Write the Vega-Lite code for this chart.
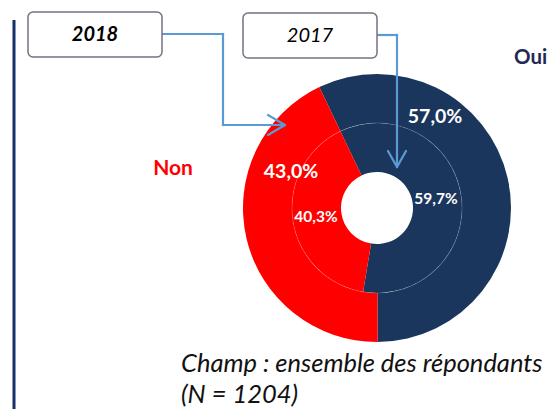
{
  "$schema": "https://vega.github.io/schema/vega-lite/v6.json",
  "width": 354,
  "height": 402,
  "autosize": "none",
  "padding": {"left": 200, "top": 7, "right": 0, "bottom": 0},
  "background": "white",
  "config": {"view": {"stroke": null}, "text": {"font": "Lato"}},
  "data": {"values": [
    {"year": "2018", "answer": "Oui", "pct": 57.0, "label": "57,0%", "order": 1},
    {"year": "2018", "answer": "Non", "pct": 43.0, "label": "43,0%", "order": 2},
    {"year": "2017", "answer": "Oui", "pct": 59.7, "label": "59,7%", "order": 1},
    {"year": "2017", "answer": "Non", "pct": 40.3, "label": "40,3%", "order": 2}
  ]},
  "layer": [
    {
      "transform": [{"filter": "datum.year === '2018'"}],
      "mark": {"type": "arc", "radius": 134, "radius2": 85, "strokeWidth": 0},
      "encoding": {
        "theta": {"field": "pct", "type": "quantitative", "stack": true, "scale": {"domain": [0, 100], "range": [-0.445, 5.8382]}},
        "order": {"field": "order", "type": "quantitative"},
        "color": {"field": "answer", "type": "nominal", "scale": {"domain": ["Oui", "Non"], "range": ["#1b365d", "#ff0000"]}, "legend": null}
      }
    },
    {
      "transform": [{"filter": "datum.year === '2017'"}],
      "mark": {"type": "arc", "radius": 85, "radius2": 36, "strokeWidth": 0},
      "encoding": {
        "theta": {"field": "pct", "type": "quantitative", "stack": true, "scale": {"domain": [0, 100], "range": [-0.445, 5.8382]}},
        "order": {"field": "order", "type": "quantitative"},
        "color": {"field": "answer", "type": "nominal", "scale": {"domain": ["Oui", "Non"], "range": ["#1b365d", "#ff0000"]}, "legend": null}
      }
    },
    {
      "data": {"values": [{}]},
      "mark": {"type": "arc", "theta": 0, "theta2": 6.2832, "radius": 85.5, "radius2": 84.7, "fill": "#ffffff", "opacity": 0.2},
      "encoding": {}
    },
    {
      "data": {"values": [{}]},
      "mark": {"type": "rule", "color": "#14306a", "strokeWidth": 3},
      "encoding": {
        "x": {"datum": 14, "type": "quantitative", "scale": {"domain": [200, 554], "nice": false, "zero": false}, "axis": null},
        "y": {"datum": 20, "type": "quantitative", "scale": {"domain": [7, 409], "nice": false, "zero": false, "reverse": true}, "axis": null},
        "y2": {"datum": 409}
      }
    },
    {
      "data": {"values": [{}]},
      "mark": {"type": "rule", "color": "#5b9bd5", "strokeWidth": 2.2, "strokeCap": "square"},
      "encoding": {
        "x": {"datum": 162, "type": "quantitative", "scale": {"domain": [200, 554], "nice": false, "zero": false}, "axis": null},
        "x2": {"datum": 223},
        "y": {"datum": 34, "type": "quantitative", "scale": {"domain": [7, 409], "nice": false, "zero": false, "reverse": true}, "axis": null},
        "y2": {"datum": 34}
      }
    },
    {
      "data": {"values": [{}]},
      "mark": {"type": "rule", "color": "#5b9bd5", "strokeWidth": 2.2, "strokeCap": "square"},
      "encoding": {
        "x": {"datum": 223, "type": "quantitative", "scale": {"domain": [200, 554], "nice": false, "zero": false}, "axis": null},
        "x2": {"datum": 223},
        "y": {"datum": 34, "type": "quantitative", "scale": {"domain": [7, 409], "nice": false, "zero": false, "reverse": true}, "axis": null},
        "y2": {"datum": 125}
      }
    },
    {
      "data": {"values": [{}]},
      "mark": {"type": "rule", "color": "#5b9bd5", "strokeWidth": 2.2, "strokeCap": "square"},
      "encoding": {
        "x": {"datum": 223, "type": "quantitative", "scale": {"domain": [200, 554], "nice": false, "zero": false}, "axis": null},
        "x2": {"datum": 283},
        "y": {"datum": 125, "type": "quantitative", "scale": {"domain": [7, 409], "nice": false, "zero": false, "reverse": true}, "axis": null},
        "y2": {"datum": 125}
      }
    },
    {
      "data": {"values": [{}]},
      "mark": {"type": "rule", "color": "#5b9bd5", "strokeWidth": 2.2, "strokeCap": "round"},
      "encoding": {
        "x": {"datum": 268, "type": "quantitative", "scale": {"domain": [200, 554], "nice": false, "zero": false}, "axis": null},
        "x2": {"datum": 285},
        "y": {"datum": 115, "type": "quantitative", "scale": {"domain": [7, 409], "nice": false, "zero": false, "reverse": true}, "axis": null},
        "y2": {"datum": 125}
      }
    },
    {
      "data": {"values": [{}]},
      "mark": {"type": "rule", "color": "#5b9bd5", "strokeWidth": 2.2, "strokeCap": "round"},
      "encoding": {
        "x": {"datum": 268, "type": "quantitative", "scale": {"domain": [200, 554], "nice": false, "zero": false}, "axis": null},
        "x2": {"datum": 285},
        "y": {"datum": 135, "type": "quantitative", "scale": {"domain": [7, 409], "nice": false, "zero": false, "reverse": true}, "axis": null},
        "y2": {"datum": 125}
      }
    },
    {
      "data": {"values": [{}]},
      "mark": {"type": "rule", "color": "#5b9bd5", "strokeWidth": 2.2, "strokeCap": "square"},
      "encoding": {
        "x": {"datum": 377, "type": "quantitative", "scale": {"domain": [200, 554], "nice": false, "zero": false}, "axis": null},
        "x2": {"datum": 397},
        "y": {"datum": 35, "type": "quantitative", "scale": {"domain": [7, 409], "nice": false, "zero": false, "reverse": true}, "axis": null},
        "y2": {"datum": 35}
      }
    },
    {
      "data": {"values": [{}]},
      "mark": {"type": "rule", "color": "#5b9bd5", "strokeWidth": 2.2, "strokeCap": "square"},
      "encoding": {
        "x": {"datum": 397, "type": "quantitative", "scale": {"domain": [200, 554], "nice": false, "zero": false}, "axis": null},
        "x2": {"datum": 397},
        "y": {"datum": 35, "type": "quantitative", "scale": {"domain": [7, 409], "nice": false, "zero": false, "reverse": true}, "axis": null},
        "y2": {"datum": 165}
      }
    },
    {
      "data": {"values": [{}]},
      "mark": {"type": "rule", "color": "#5b9bd5", "strokeWidth": 2.2, "strokeCap": "round"},
      "encoding": {
        "x": {"datum": 388, "type": "quantitative", "scale": {"domain": [200, 554], "nice": false, "zero": false}, "axis": null},
        "x2": {"datum": 397},
        "y": {"datum": 151, "type": "quantitative", "scale": {"domain": [7, 409], "nice": false, "zero": false, "reverse": true}, "axis": null},
        "y2": {"datum": 167}
      }
    },
    {
      "data": {"values": [{}]},
      "mark": {"type": "rule", "color": "#5b9bd5", "strokeWidth": 2.2, "strokeCap": "round"},
      "encoding": {
        "x": {"datum": 406, "type": "quantitative", "scale": {"domain": [200, 554], "nice": false, "zero": false}, "axis": null},
        "x2": {"datum": 397},
        "y": {"datum": 151, "type": "quantitative", "scale": {"domain": [7, 409], "nice": false, "zero": false, "reverse": true}, "axis": null},
        "y2": {"datum": 167}
      }
    },
    {
      "data": {"values": [{}]},
      "mark": {"type": "rect", "fill": "#ffffff", "stroke": "#7b6f82", "strokeWidth": 1.5, "cornerRadius": 5},
      "encoding": {
        "x": {"datum": 28, "type": "quantitative", "scale": {"domain": [200, 554], "nice": false, "zero": false}, "axis": null},
        "x2": {"datum": 162},
        "y": {"datum": 12, "type": "quantitative", "scale": {"domain": [7, 409], "nice": false, "zero": false, "reverse": true}, "axis": null},
        "y2": {"datum": 57}
      }
    },
    {
      "data": {"values": [{}]},
      "mark": {"type": "rect", "fill": "#ffffff", "stroke": "#7b6f82", "strokeWidth": 1.5, "cornerRadius": 5},
      "encoding": {
        "x": {"datum": 243, "type": "quantitative", "scale": {"domain": [200, 554], "nice": false, "zero": false}, "axis": null},
        "x2": {"datum": 377},
        "y": {"datum": 13, "type": "quantitative", "scale": {"domain": [7, 409], "nice": false, "zero": false, "reverse": true}, "axis": null},
        "y2": {"datum": 58}
      }
    },
    {
      "transform": [{"filter": "datum.year === '2018' && datum.order === 1"}],
      "mark": {"type": "text", "fontSize": 20, "fontWeight": "bold", "fontStyle": "italic", "color": "#000000", "align": "center", "baseline": "middle"},
      "encoding": {
        "x": {"datum": 95, "type": "quantitative", "scale": {"domain": [200, 554], "nice": false, "zero": false}, "axis": null},
        "y": {"datum": 35, "type": "quantitative", "scale": {"domain": [7, 409], "nice": false, "zero": false, "reverse": true}, "axis": null},
        "text": {"field": "year"}
      }
    },
    {
      "transform": [{"filter": "datum.year === '2017' && datum.order === 1"}],
      "mark": {"type": "text", "fontSize": 20, "fontStyle": "italic", "color": "#000000", "align": "center", "baseline": "middle"},
      "encoding": {
        "x": {"datum": 310, "type": "quantitative", "scale": {"domain": [200, 554], "nice": false, "zero": false}, "axis": null},
        "y": {"datum": 36, "type": "quantitative", "scale": {"domain": [7, 409], "nice": false, "zero": false, "reverse": true}, "axis": null},
        "text": {"field": "year"}
      }
    },
    {
      "transform": [{"filter": "datum.year === '2018' && datum.answer === 'Non'"}],
      "mark": {"type": "text", "fontSize": 21, "fontWeight": "bold", "color": "#ff0000", "align": "center", "baseline": "middle"},
      "encoding": {
        "x": {"datum": 173, "type": "quantitative", "scale": {"domain": [200, 554], "nice": false, "zero": false}, "axis": null},
        "y": {"datum": 169, "type": "quantitative", "scale": {"domain": [7, 409], "nice": false, "zero": false, "reverse": true}, "axis": null},
        "text": {"field": "answer"}
      }
    },
    {
      "transform": [{"filter": "datum.year === '2018' && datum.answer === 'Oui'"}],
      "mark": {"type": "text", "fontSize": 20.5, "fontWeight": "bold", "color": "#1f2a55", "align": "left", "baseline": "middle"},
      "encoding": {
        "x": {"datum": 514, "type": "quantitative", "scale": {"domain": [200, 554], "nice": false, "zero": false}, "axis": null},
        "y": {"datum": 58, "type": "quantitative", "scale": {"domain": [7, 409], "nice": false, "zero": false, "reverse": true}, "axis": null},
        "text": {"field": "answer"}
      }
    },
    {
      "transform": [{"filter": "datum.year === '2018' && datum.answer === 'Oui'"}],
      "mark": {"type": "text", "fontSize": 19.5, "fontWeight": "bold", "color": "#ffffff", "align": "center", "baseline": "middle"},
      "encoding": {
        "x": {"datum": 435, "type": "quantitative", "scale": {"domain": [200, 554], "nice": false, "zero": false}, "axis": null},
        "y": {"datum": 117, "type": "quantitative", "scale": {"domain": [7, 409], "nice": false, "zero": false, "reverse": true}, "axis": null},
        "text": {"field": "label"}
      }
    },
    {
      "transform": [{"filter": "datum.year === '2018' && datum.answer === 'Non'"}],
      "mark": {"type": "text", "fontSize": 19.5, "fontWeight": "bold", "color": "#ffffff", "align": "center", "baseline": "middle"},
      "encoding": {
        "x": {"datum": 291, "type": "quantitative", "scale": {"domain": [200, 554], "nice": false, "zero": false}, "axis": null},
        "y": {"datum": 172, "type": "quantitative", "scale": {"domain": [7, 409], "nice": false, "zero": false, "reverse": true}, "axis": null},
        "text": {"field": "label"}
      }
    },
    {
      "transform": [{"filter": "datum.year === '2017' && datum.answer === 'Oui'"}],
      "mark": {"type": "text", "fontSize": 15.5, "fontWeight": "bold", "color": "#ffffff", "align": "center", "baseline": "middle"},
      "encoding": {
        "x": {"datum": 436, "type": "quantitative", "scale": {"domain": [200, 554], "nice": false, "zero": false}, "axis": null},
        "y": {"datum": 199, "type": "quantitative", "scale": {"domain": [7, 409], "nice": false, "zero": false, "reverse": true}, "axis": null},
        "text": {"field": "label"}
      }
    },
    {
      "transform": [{"filter": "datum.year === '2017' && datum.answer === 'Non'"}],
      "mark": {"type": "text", "fontSize": 15.5, "fontWeight": "bold", "color": "#ffffff", "align": "center", "baseline": "middle"},
      "encoding": {
        "x": {"datum": 316, "type": "quantitative", "scale": {"domain": [200, 554], "nice": false, "zero": false}, "axis": null},
        "y": {"datum": 217, "type": "quantitative", "scale": {"domain": [7, 409], "nice": false, "zero": false, "reverse": true}, "axis": null},
        "text": {"field": "label"}
      }
    },
    {
      "data": {"values": [{}]},
      "mark": {"type": "text", "text": ["Champ : ensemble des répondants", "(N = 1204)"], "fontSize": 25.5, "fontStyle": "italic", "color": "#111111", "align": "left", "baseline": "alphabetic", "lineHeight": 31},
      "encoding": {
        "x": {"datum": 181, "type": "quantitative", "scale": {"domain": [200, 554], "nice": false, "zero": false}, "axis": null},
        "y": {"datum": 372, "type": "quantitative", "scale": {"domain": [7, 409], "nice": false, "zero": false, "reverse": true}, "axis": null}
      }
    }
  ]
}
